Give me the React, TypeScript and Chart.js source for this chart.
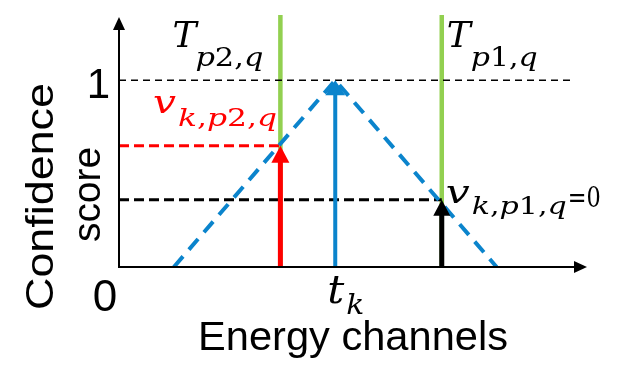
import React, { useEffect, useRef } from "react";
import { Chart, registerables } from "chart.js";

Chart.register(...registerables);

// ---- data (domain units) ----
const tk = 1.34; // peak channel
const triangleX = [0.34, 1.34, 2.34];
const triangleY = [0, 1, 0];
const thresholdP2 = 1.0; // T_{p2,q}
const thresholdP1 = 2.0; // T_{p1,q}
const vP2 = 0.65; // v_{k,p2,q}
const vP1 = 0.36; // v_{k,p1,q}
const peakValue = 1;
const xMax = 2.9;
const yMax = 1.35;
const refLineEnd = 2.82;
const yTickLabels = ["0", "1"];

const BLUE = "#0B84CC";
const GREEN = "#92D050";
const RED = "#FF0000";
const BLACK = "#000000";

type Seg = { t: string; font: string };

function drawRun(ctx: CanvasRenderingContext2D, segs: Seg[], x: number, baseline: number, color: string, width?: number) {
  ctx.save();
  let total = 0;
  const ws: number[] = [];
  for (const s of segs) {
    ctx.font = s.font;
    const w = ctx.measureText(s.t).width;
    ws.push(w);
    total += w;
  }
  const sx = width ? width / total : 1;
  ctx.translate(x, baseline);
  ctx.scale(sx, 1);
  ctx.fillStyle = color;
  ctx.textBaseline = "alphabetic";
  ctx.textAlign = "left";
  let cx = 0;
  segs.forEach((s, i) => {
    ctx.font = s.font;
    ctx.fillText(s.t, cx, 0);
    cx += ws[i];
  });
  ctx.restore();
}

const MI = (px: number) => `italic ${px}px "DejaVu Serif"`;
const MU = (px: number) => `${px}px "DejaVu Serif"`;
const SANS = (px: number) => `${px}px "Liberation Sans"`;

const overlay = {
  id: "overlay",
  afterDatasetsDraw(chart: any) {
    const ctx: CanvasRenderingContext2D = chart.ctx;
    const xs = chart.scales.x;
    const ys = chart.scales.y;
    const { left, right, top, bottom } = chart.chartArea;
    const X = (v: number) => xs.getPixelForValue(v);
    const Y = (v: number) => ys.getPixelForValue(v);

    // arrows (vertical, from 0 to value)
    const arrow = (xv: number, yv: number, color: string, shaftW: number, headW: number, headL: number) => {
      const px = X(xv);
      const tip = Y(yv);
      const base = Y(0);
      ctx.save();
      ctx.strokeStyle = color;
      ctx.fillStyle = color;
      ctx.lineWidth = shaftW;
      ctx.lineCap = "butt";
      ctx.beginPath();
      ctx.moveTo(px, base);
      ctx.lineTo(px, tip + headL - 1);
      ctx.stroke();
      ctx.beginPath();
      ctx.moveTo(px, tip);
      ctx.lineTo(px - headW / 2, tip + headL);
      ctx.lineTo(px + headW / 2, tip + headL);
      ctx.closePath();
      ctx.fill();
      ctx.restore();
    };
    arrow(tk, peakValue, BLUE, 4, 20, 15);
    arrow(thresholdP2, vP2, RED, 5, 18, 17);
    arrow(thresholdP1, vP1, BLACK, 5, 17, 16);

    // axes with arrowheads
    ctx.save();
    ctx.strokeStyle = BLACK;
    ctx.fillStyle = BLACK;
    ctx.lineWidth = 2;
    ctx.beginPath();
    ctx.moveTo(left, bottom + 1);
    ctx.lineTo(left, top + 12);
    ctx.moveTo(left - 1, bottom);
    ctx.lineTo(right - 12, bottom);
    ctx.stroke();
    ctx.beginPath();
    ctx.moveTo(left, top + 2);
    ctx.lineTo(left - 6, top + 15);
    ctx.lineTo(left + 6, top + 15);
    ctx.closePath();
    ctx.fill();
    ctx.beginPath();
    ctx.moveTo(right, bottom);
    ctx.lineTo(right - 13, bottom - 6);
    ctx.lineTo(right - 13, bottom + 6);
    ctx.closePath();
    ctx.fill();
    ctx.restore();

    // tick labels
    ctx.save();
    ctx.fillStyle = BLACK;
    ctx.font = SANS(42);
    ctx.textAlign = "right";
    ctx.textBaseline = "alphabetic";
    ctx.fillText(yTickLabels[1], left - 9, Y(1) + 18);
    ctx.font = SANS(44);
    ctx.textAlign = "center";
    ctx.fillText(yTickLabels[0], left - 14, bottom + 44);
    ctx.restore();

    // axis titles
    drawRun(ctx, [{ t: "Energy channels", font: SANS(41) }], 198, 350, BLACK, 310);
    ctx.save();
    ctx.translate(53, 196.5);
    ctx.rotate(-Math.PI / 2);
    drawRun(ctx, [{ t: "Confidence", font: SANS(39) }], -113.5, 0, BLACK, 227);
    ctx.restore();
    ctx.save();
    ctx.translate(100, 194.5);
    ctx.rotate(-Math.PI / 2);
    drawRun(ctx, [{ t: "score", font: SANS(39) }], -47.5, 0, BLACK, 95);
    ctx.restore();

    // math labels
    const gx2 = X(thresholdP2);
    const gx1 = X(thresholdP1);
    // T_{p2,q}
    drawRun(ctx, [{ t: "T", font: MI(36) }], gx2 - 108, 47, BLACK, 24);
    drawRun(ctx, [{ t: "p", font: MI(26) }, { t: "2", font: MU(26) }, { t: ",", font: MU(26) }, { t: "q", font: MI(26) }], gx2 - 85, 66, BLACK, 68);
    // T_{p1,q}
    drawRun(ctx, [{ t: "T", font: MI(36) }], gx1 + 5, 47, BLACK, 24);
    drawRun(ctx, [{ t: "p", font: MI(26) }, { t: "1", font: MU(26) }, { t: ",", font: MU(26) }, { t: "q", font: MI(26) }], gx1 + 29, 66, BLACK, 67);
    // v_{k,p2,q} (red)
    drawRun(ctx, [{ t: "v", font: MI(31) }], 153, 113, RED, 23);
    drawRun(ctx, [{ t: "k", font: MI(24) }, { t: ",", font: MU(24) }, { t: "p", font: MI(24) }, { t: "2", font: MU(24) }, { t: ",", font: MU(24) }, { t: "q", font: MI(24) }], 178, 126, RED, 99);
    // v_{k,p1,q}=0
    drawRun(ctx, [{ t: "v", font: MI(31) }], gx1 + 4, 203, BLACK, 24);
    drawRun(ctx, [{ t: "k", font: MI(24) }, { t: ",", font: MU(24) }, { t: "p", font: MI(24) }, { t: "1", font: MU(24) }, { t: ",", font: MU(24) }, { t: "q", font: MI(24) }], gx1 + 30, 214, BLACK, 95);
    drawRun(ctx, [{ t: "=0", font: MU(27) }], gx1 + 126, 207, BLACK, 33);
    // t_k
    const tx = X(tk);
    drawRun(ctx, [{ t: "t", font: MI(40) }], tx - 8, 303, BLACK, 17);
    drawRun(ctx, [{ t: "k", font: MI(27) }], tx + 11, 314, BLACK, 18);
  },
};

export default function App() {
  const ref = useRef<HTMLCanvasElement | null>(null);
  useEffect(() => {
    if (!ref.current) return;
    const line = (data: { x: number; y: number }[], color: string, width: number, dash: number[] = []) => ({
      data,
      borderColor: color,
      backgroundColor: color,
      borderWidth: width,
      borderDash: dash,
      borderCapStyle: "butt" as const,
      pointRadius: 0,
      tension: 0,
      fill: false,
    });
    const chart = new Chart(ref.current, {
      type: "line",
      data: {
        datasets: [
          line(triangleX.map((x, i) => ({ x, y: triangleY[i] })), BLUE, 4, [14, 9]),
          line([{ x: 0, y: vP2 }, { x: thresholdP2, y: vP2 }], RED, 3, [10, 5]),
          line([{ x: 0, y: vP1 }, { x: thresholdP1, y: vP1 }], BLACK, 3, [10, 5]),
          line([{ x: 0, y: peakValue }, { x: refLineEnd, y: peakValue }], BLACK, 1.5, [7, 5]),
          line([{ x: thresholdP2, y: 0 }, { x: thresholdP2, y: yMax }], GREEN, 4.5),
          line([{ x: thresholdP1, y: 0 }, { x: thresholdP1, y: yMax }], GREEN, 4.5),
        ],
      },
      options: {
        animation: false,
        responsive: false,
        devicePixelRatio: 1,
        layout: { padding: { left: 119, right: 51, top: 15, bottom: 121 } },
        scales: {
          x: { type: "linear", min: 0, max: xMax, display: false },
          y: { type: "linear", min: 0, max: yMax, display: false },
        },
        plugins: { legend: { display: false }, tooltip: { enabled: false } },
      },
      plugins: [overlay],
    });
    return () => chart.destroy();
  }, []);
  return (
    <div style={{ position: "fixed", left: 0, top: 0, width: 638, height: 388, background: "#fff" }}>
      <canvas ref={ref} width={638} height={388} />
    </div>
  );
}
